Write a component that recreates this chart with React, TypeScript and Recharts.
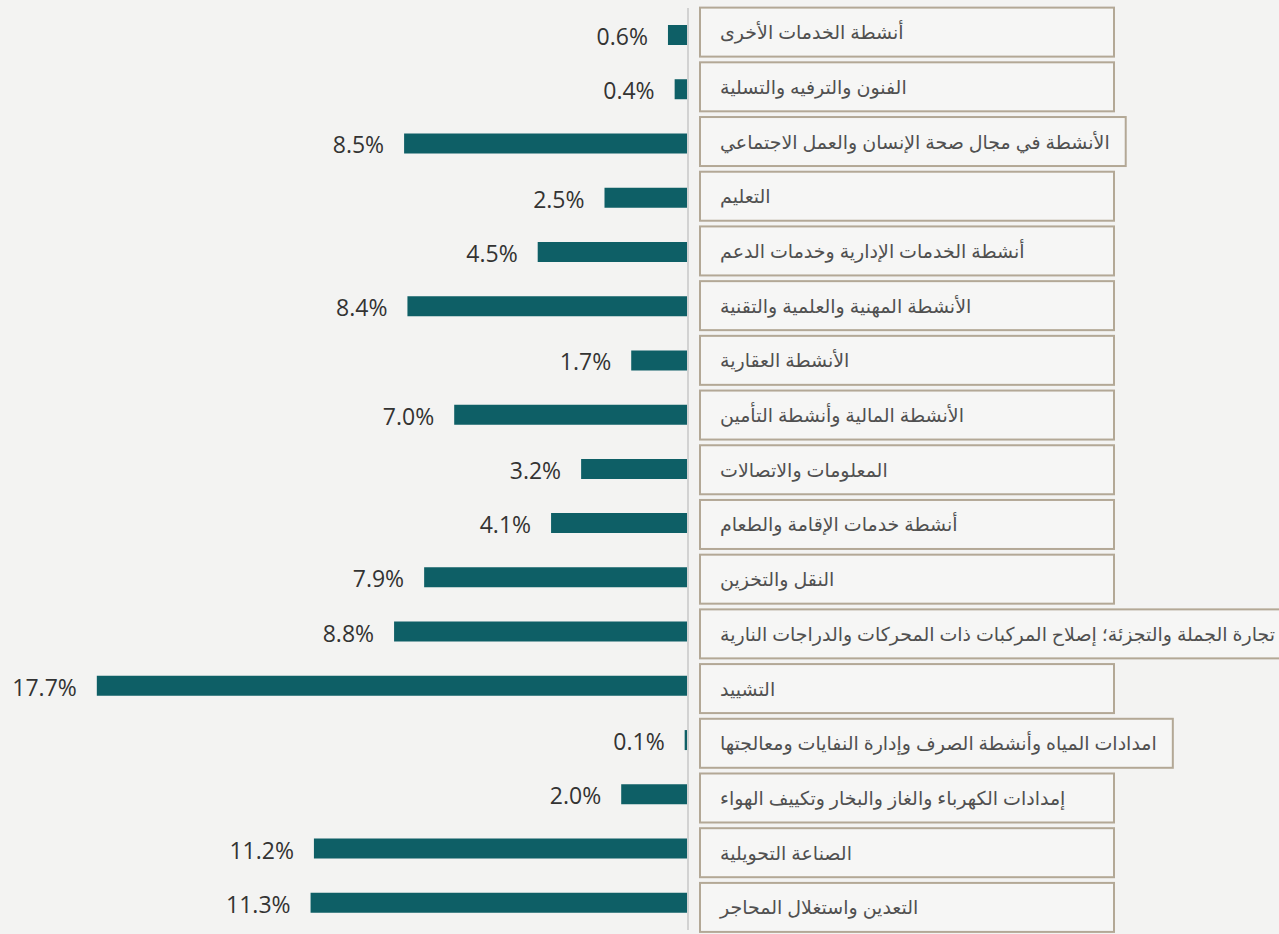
import React from 'react';
import { BarChart, Bar, XAxis, YAxis, LabelList } from 'recharts';

const categories: string[] = [
  'أنشطة الخدمات الأخرى',
  'الفنون والترفيه والتسلية',
  'الأنشطة في مجال صحة الإنسان والعمل الاجتماعي',
  'التعليم',
  'أنشطة الخدمات الإدارية وخدمات الدعم',
  'الأنشطة المهنية والعلمية والتقنية',
  'الأنشطة العقارية',
  'الأنشطة المالية وأنشطة التأمين',
  'المعلومات والاتصالات',
  'أنشطة خدمات الإقامة والطعام',
  'النقل والتخزين',
  'تجارة الجملة والتجزئة؛ إصلاح المركبات ذات المحركات والدراجات النارية',
  'التشييد',
  'امدادات المياه وأنشطة الصرف وإدارة النفايات ومعالجتها',
  'إمدادات الكهرباء والغاز والبخار وتكييف الهواء',
  'الصناعة التحويلية',
  'التعدين واستغلال المحاجر',
];

const shares: number[] = [0.6, 0.4, 8.5, 2.5, 4.5, 8.4, 1.7, 7.0, 3.2, 4.1, 7.9, 8.8, 17.7, 0.1, 2.0, 11.2, 11.3];

const xTicks: number[] = [0, 20];

const data = categories.map((name, i) => ({ name, value: shares[i] }));

const ARABIC_FONT = '"Noto Sans", "DejaVu Sans", sans-serif';
const LABEL_SIZE = 19;
const CHART_W = 1279;

let measureCtx: CanvasRenderingContext2D | null = null;
function measure(text: string): number {
  if (typeof document === 'undefined') return text.length * 9;
  if (!measureCtx) {
    const c = document.createElement('canvas');
    measureCtx = c.getContext('2d');
  }
  if (!measureCtx) return text.length * 9;
  measureCtx.font = `${LABEL_SIZE}px ${ARABIC_FONT}`;
  return measureCtx.measureText(text).width;
}

const CategoryTick = (props: any) => {
  const { x, y, payload, index } = props;
  const text: string = payload.value;
  const idx = typeof index === 'number' ? index : categories.indexOf(text);
  const cy = y + idx * 0.47;
  const bx = x + 4;
  const tx = bx + 20;
  const natural = measure(text);
  const maxW = CHART_W - tx - 4;
  const tw = Math.min(natural, maxW);
  const w = Math.max(414, tw + 36);
  return (
    <g>
      <rect x={bx} y={cy - 27.5} width={w} height={49} fill="rgba(255,255,255,0.25)" stroke="#b3a896" strokeWidth={2} />
      <text
        x={tx}
        y={cy - 3}
        textAnchor="start"
        dominantBaseline="central"
        fontSize={LABEL_SIZE}
        fill="#505050"
        fontFamily={ARABIC_FONT}
        {...(natural > maxW ? { textLength: maxW, lengthAdjust: 'spacingAndGlyphs' } : {})}
      >
        {text}
      </text>
    </g>
  );
};

const ValueLabel = (props: any) => {
  const { x, y, width, height, value } = props;
  const left = Math.min(x, x + width);
  return (
    <text x={left - 20} y={y + height / 2 + 1} textAnchor="end" dominantBaseline="central" fontSize={23} fill="#333333" fontFamily='"Open Sans", "Noto Sans", sans-serif'>
      {`${Number(value).toFixed(1)}%`}
    </text>
  );
};

export default function App() {
  return (
    <div style={{ position: 'absolute', left: 0, top: 0, width: 1279, height: 934, background: '#f3f3f2', overflow: 'hidden' }}>
      <BarChart
        width={CHART_W}
        height={934}
        data={data}
        layout="vertical"
        margin={{ top: 8, right: 0, bottom: 4, left: 20 }}
        barCategoryGap={0}
      >
        <XAxis type="number" domain={[0, 20]} ticks={xTicks} reversed hide />
        <YAxis
          type="category"
          dataKey="name"
          orientation="right"
          width={591}
          axisLine={{ stroke: '#d2d2d2', strokeWidth: 2 }}
          tickLine={false}
          tick={<CategoryTick />}
          interval={0}
        />
        <Bar dataKey="value" fill="#0e5f66" barSize={20} isAnimationActive={false}>
          <LabelList dataKey="value" content={<ValueLabel />} />
        </Bar>
      </BarChart>
    </div>
  );
}
